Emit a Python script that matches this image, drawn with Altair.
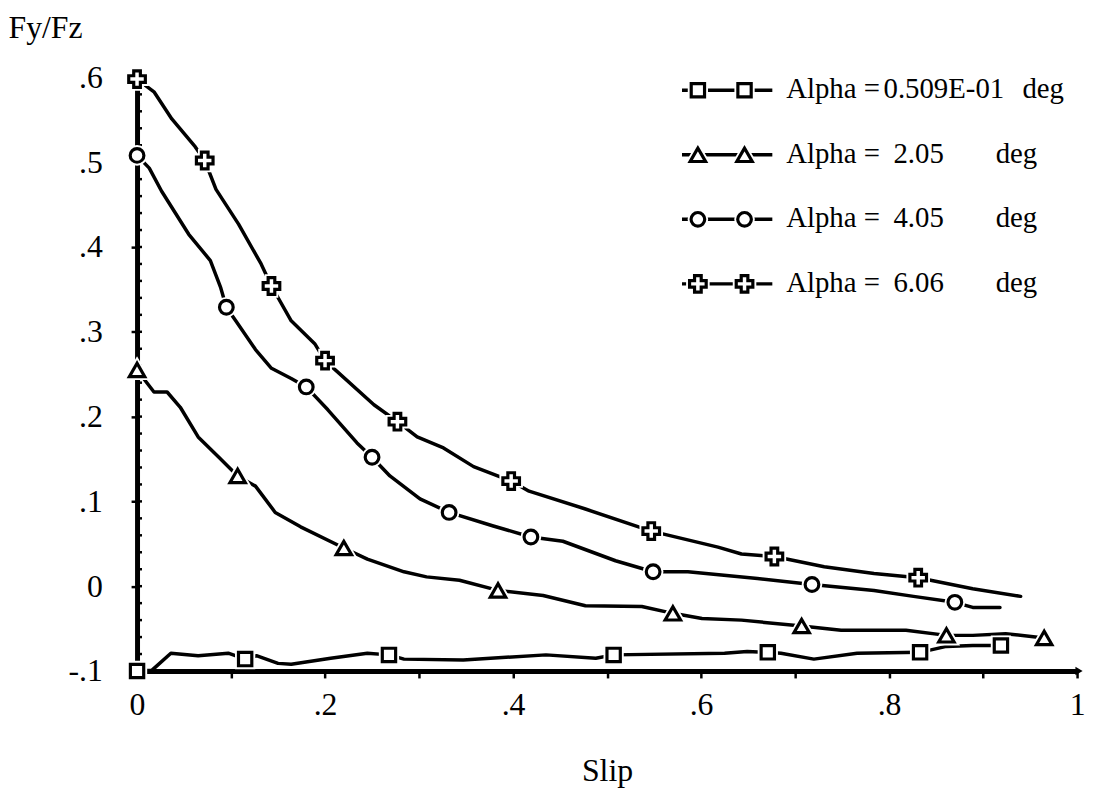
import altair as alt
import pandas as pd

FONT = "Liberation Serif"

# ---------------- data ----------------
series_keys = ["a0051", "a205", "a405", "a606"]
series_shapes = ["square", "triangle-up", "circle", "cross"]
legend_values = ["0.509E-01", "2.05", "4.05", "6.06"]
legend_units = ["deg", "deg", "deg", "deg"]

# Alpha = 0.509E-01 deg (squares)
slip_a0051 = [0.0, 0.016, 0.036, 0.065, 0.097, 0.115, 0.127, 0.150, 0.164, 0.206,
              0.245, 0.268, 0.284, 0.347, 0.435, 0.488, 0.507, 0.625, 0.649, 0.671,
              0.685, 0.720, 0.766, 0.833, 0.861, 0.889, 0.919]
fyfz_a0051 = [-0.100, -0.099, -0.079, -0.082, -0.079, -0.086, -0.082, -0.091, -0.092, -0.085,
              -0.079, -0.081, -0.086, -0.087, -0.081, -0.085, -0.081, -0.079, -0.077, -0.078,
              -0.079, -0.086, -0.079, -0.078, -0.071, -0.070, -0.070]
mark_slip_a0051 = [0.0, 0.115, 0.268, 0.507, 0.671, 0.833, 0.919]
mark_fyfz_a0051 = [-0.100, -0.086, -0.081, -0.081, -0.078, -0.078, -0.070]

# Alpha = 2.05 deg (triangles)
slip_a205 = [0.0, 0.018, 0.032, 0.046, 0.065, 0.087, 0.107, 0.126, 0.147, 0.174,
             0.220, 0.245, 0.284, 0.308, 0.343, 0.384, 0.432, 0.477, 0.537, 0.570,
             0.601, 0.643, 0.707, 0.749, 0.818, 0.861, 0.889, 0.924, 0.965]
fyfz_a205 = [0.255, 0.229, 0.229, 0.211, 0.176, 0.152, 0.130, 0.118, 0.087, 0.070,
             0.045, 0.032, 0.017, 0.011, 0.007, -0.005, -0.011, -0.023, -0.024, -0.032,
             -0.038, -0.040, -0.047, -0.052, -0.052, -0.058, -0.058, -0.056, -0.061]
mark_slip_a205 = [0.0, 0.107, 0.220, 0.384, 0.570, 0.707, 0.861, 0.965]
mark_fyfz_a205 = [0.255, 0.130, 0.045, -0.005, -0.032, -0.047, -0.058, -0.061]

# Alpha = 4.05 deg (circles)
slip_a405 = [0.0, 0.013, 0.026, 0.055, 0.078, 0.089, 0.095, 0.105, 0.126, 0.143,
             0.164, 0.180, 0.203, 0.234, 0.250, 0.269, 0.301, 0.332, 0.379, 0.419,
             0.453, 0.509, 0.549, 0.586, 0.660, 0.718, 0.784, 0.826, 0.870, 0.889, 0.918]
fyfz_a405 = [0.508, 0.493, 0.466, 0.415, 0.384, 0.352, 0.329, 0.313, 0.279, 0.257,
             0.245, 0.235, 0.208, 0.169, 0.152, 0.130, 0.103, 0.087, 0.071, 0.058,
             0.053, 0.030, 0.017, 0.017, 0.009, 0.002, -0.005, -0.012, -0.019, -0.025, -0.025]
mark_slip_a405 = [0.0, 0.095, 0.180, 0.250, 0.332, 0.419, 0.549, 0.718, 0.870]
mark_fyfz_a405 = [0.508, 0.329, 0.235, 0.152, 0.087, 0.058, 0.017, 0.002, -0.019]

# Alpha = 6.06 deg (crosses)
slip_a606 = [0.0, 0.018, 0.037, 0.062, 0.072, 0.084, 0.108, 0.132, 0.143, 0.164,
             0.189, 0.200, 0.252, 0.277, 0.298, 0.326, 0.358, 0.398, 0.417, 0.477,
             0.547, 0.618, 0.643, 0.678, 0.731, 0.784, 0.831, 0.889, 0.940]
fyfz_a606 = [0.598, 0.583, 0.551, 0.518, 0.502, 0.468, 0.427, 0.380, 0.354, 0.313,
             0.286, 0.266, 0.214, 0.194, 0.176, 0.163, 0.141, 0.124, 0.112, 0.091,
             0.065, 0.046, 0.038, 0.035, 0.023, 0.015, 0.010, -0.003, -0.012]
mark_slip_a606 = [0.0, 0.072, 0.143, 0.200, 0.277, 0.398, 0.547, 0.678, 0.831]
mark_fyfz_a606 = [0.598, 0.502, 0.354, 0.266, 0.194, 0.124, 0.065, 0.035, 0.010]

x_tick_values = [0.0, 0.1, 0.2, 0.3, 0.4, 0.5, 0.6, 0.7, 0.8, 0.9, 1.0]
y_tick_values = [-0.1, 0.0, 0.1, 0.2, 0.3, 0.4, 0.5, 0.6]
y_minor_ticks = [-0.08, -0.06, -0.04, -0.02, 0.0, 0.02, 0.04, 0.06, 0.08, 0.1,
                 0.12, 0.14, 0.16, 0.18, 0.2, 0.22, 0.24, 0.26, 0.28, 0.3,
                 0.32, 0.34, 0.36, 0.38, 0.4, 0.42, 0.44, 0.46, 0.48, 0.5,
                 0.52, 0.54, 0.56, 0.58, 0.6]

# ---------------- styling ----------------
W, H = 947, 598
FS = 32
LFS = 29
LINE_W = 3.5
MARK_W = 3.2
marker_sizes = {"square": 180, "triangle-up": 240, "circle": 190, "cross": 280}

curves = {
    "a0051": (slip_a0051, fyfz_a0051, mark_slip_a0051, mark_fyfz_a0051),
    "a205": (slip_a205, fyfz_a205, mark_slip_a205, mark_fyfz_a205),
    "a405": (slip_a405, fyfz_a405, mark_slip_a405, mark_fyfz_a405),
    "a606": (slip_a606, fyfz_a606, mark_slip_a606, mark_fyfz_a606),
}

line_rows, mark_rows = [], []
for key in series_keys:
    xs, ys, mxs, mys = curves[key]
    for i, (x, y) in enumerate(zip(xs, ys)):
        line_rows.append({"series": key, "idx": i, "slip": x, "fyfz": y})
    for x, y in zip(mxs, mys):
        mark_rows.append({"series": key, "slip": x, "fyfz": y})
lines_df = pd.DataFrame(line_rows)
marks_df = pd.DataFrame(mark_rows)

label_expr_core = ("(datum.value == 0 ? '0' : datum.value == 1 ? '1' : "
                   "(datum.value < 0 ? '-' : '') + substring(format(abs(datum.value), '.1f'), 1))")

x_scale = alt.Scale(domain=[0, 1], nice=False, zero=False)
y_scale = alt.Scale(domain=[-0.1, 0.6], nice=False, zero=False)

x_axis = alt.Axis(
    values=x_tick_values,
    labelExpr="(round(datum.value * 10) % 2 == 1) ? '' : " + label_expr_core,
    title="Slip", grid=False,
    domainColor="black", domainWidth=5,
    tickColor="black", tickWidth=2.5, tickSize=7,
    labelFont=FONT, labelFontSize=FS, labelColor="black", labelPadding=12,
    labelFlush=False, labelOverlap=False,
    titleFont=FONT, titleFontSize=FS, titleFontWeight="normal", titleColor="black",
    titleX=W / 2, titleY=110, titleAlign="center", titleBaseline="alphabetic",
)
y_axis = alt.Axis(
    values=y_tick_values,
    labelExpr=label_expr_core,
    title="Fy/Fz", grid=False,
    domainColor="black", domainWidth=5,
    tickColor="black", tickWidth=2.5, tickSize=6,
    labelFont=FONT, labelFontSize=FS, labelColor="black", labelPadding=29,
    labelFlush=False, labelOverlap=False,
    titleFont=FONT, titleFontSize=FS, titleFontWeight="normal", titleColor="black",
    titleAngle=0, titleX=-130, titleY=-40, titleAlign="left", titleBaseline="alphabetic",
)

base_x = alt.X("slip:Q", scale=x_scale, axis=x_axis)
base_y = alt.Y("fyfz:Q", scale=y_scale, axis=y_axis)

lines = alt.Chart(lines_df).mark_line(
    color="black", strokeWidth=LINE_W, strokeJoin="round", strokeCap="round"
).encode(x=base_x, y=base_y, detail="series:N", order="idx:Q")

layers = [lines]

# minor ticks on the inner side of the y axis
minor_df = pd.DataFrame({"fyfz": y_minor_ticks})
layers.append(
    alt.Chart(minor_df).mark_rule(color="black", strokeWidth=2.5).encode(
        x=alt.value(0), x2=alt.value(5), y=alt.Y("fyfz:Q", scale=y_scale, axis=y_axis)
    )
)

for key, shape in zip(series_keys, series_shapes):
    sub = marks_df[marks_df["series"] == key]
    size = marker_sizes[shape]
    halo = alt.Chart(sub).mark_point(
        shape=shape, size=size, filled=True, fill="white", stroke="white",
        strokeWidth=7, opacity=1
    ).encode(x=base_x, y=base_y)
    pts = alt.Chart(sub).mark_point(
        shape=shape, size=size, filled=True, fill="white", stroke="black",
        strokeWidth=MARK_W, opacity=1
    ).encode(x=base_x, y=base_y)
    layers += [halo, pts]

one = pd.DataFrame({"k": [0]})

# arrow head at the end of the x axis
layers.append(
    alt.Chart(one).mark_point(shape="triangle-right", size=70, filled=True,
                              color="black", opacity=1)
    .encode(x=alt.value(W + 2), y=alt.value(H))
)

# legend
for i, (shape, val, unit) in enumerate(zip(series_shapes, legend_values, legend_units)):
    ly = 13 + 65 * i
    tb = 21 + 65 * i
    size = marker_sizes[shape]
    layers.append(
        alt.Chart(one).mark_rule(color="black", strokeWidth=LINE_W).encode(
            x=alt.value(549), x2=alt.value(640), y=alt.value(ly)
        )
    )
    for mx in (565, 612):
        layers.append(
            alt.Chart(one).mark_point(shape=shape, size=size, filled=True, fill="white",
                                      stroke="white", strokeWidth=7, opacity=1)
            .encode(x=alt.value(mx), y=alt.value(ly))
        )
        layers.append(
            alt.Chart(one).mark_point(shape=shape, size=size, filled=True, fill="white",
                                      stroke="black", strokeWidth=MARK_W, opacity=1)
            .encode(x=alt.value(mx), y=alt.value(ly))
        )
    texts = [("Alpha", 654), ("=", 732),
             (val, 752 if i == 0 else 762),
             (unit, 892 if i == 0 else 865)]
    for t, tx in texts:
        layers.append(
            alt.Chart(one).mark_text(text=t, font=FONT, fontSize=LFS, color="black",
                                     align="left", baseline="alphabetic")
            .encode(x=alt.value(tx), y=alt.value(tb))
        )

chart = alt.layer(*layers).properties(
    width=W, height=H,
    autosize=alt.AutoSizeParams(type="none"),
    padding={"left": 130, "top": 67, "right": 9, "bottom": 120},
    background="white",
).configure_view(stroke=None)

chart.save("out.html", embed_options={"renderer": "svg", "actions": False})
